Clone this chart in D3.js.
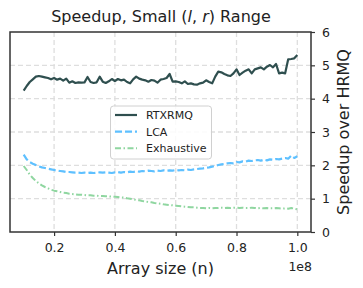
<!DOCTYPE html>
<html>
<head>
<meta charset="utf-8">
<script src="https://cdn.jsdelivr.net/npm/d3@7"></script>
<style>
  body { margin: 0; background: #fff; }
  text { font-family: "DejaVu Sans", sans-serif; fill: #222; }
</style>
</head>
<body>
<svg id="chart" width="363" height="288"></svg>
<script>
// array sizes in millions
var sizes = [10, 11, 12, 13, 14, 15, 16, 17, 18, 19,
             20, 21, 22, 23, 24, 25, 26, 27, 28, 29,
             30, 31, 32, 33, 34, 35, 36, 37, 38, 39,
             40, 41, 42, 43, 44, 45, 46, 47, 48, 49,
             50, 51, 52, 53, 54, 55, 56, 57, 58, 59,
             60, 61, 62, 63, 64, 65, 66, 67, 68, 69,
             70, 71, 72, 73, 74, 75, 76, 77, 78, 79,
             80, 81, 82, 83, 84, 85, 86, 87, 88, 89,
             90, 91, 92, 93, 94, 95, 96, 97, 98, 99, 100];

var rtxrmq = [4.24, 4.38, 4.50, 4.58, 4.66, 4.68, 4.66, 4.64, 4.62, 4.58,
              4.62, 4.57, 4.60, 4.54, 4.60, 4.48, 4.52, 4.47, 4.49, 4.48,
              4.49, 4.65, 4.50, 4.47, 4.49, 4.66, 4.51, 4.47, 4.52, 4.59,
              4.53, 4.59, 4.55, 4.57, 4.50, 4.46, 4.58, 4.66, 4.60, 4.57,
              4.55, 4.51, 4.56, 4.54, 4.48, 4.57, 4.59, 4.62, 4.74, 4.51,
              4.52, 4.50, 4.46, 4.52, 4.44, 4.46, 4.43, 4.42, 4.46, 4.48,
              4.55, 4.50, 4.46, 4.66, 4.81, 4.79, 4.74, 4.70, 4.68, 4.76,
              4.88, 4.71, 4.78, 4.84, 4.88, 4.76, 4.88, 4.91, 4.94, 4.88,
              4.96, 5.01, 4.94, 5.04, 4.76, 4.78, 4.76, 5.18, 5.19, 5.21, 5.31];

var lca = [2.32, 2.18, 2.10, 2.05, 2.01, 1.97, 1.94, 1.92, 1.90, 1.88,
           1.86, 1.84, 1.83, 1.82, 1.80, 1.80, 1.79, 1.78, 1.78, 1.77,
           1.78, 1.77, 1.78, 1.77, 1.78, 1.79, 1.78, 1.79, 1.78, 1.77,
           1.79, 1.80, 1.78, 1.80, 1.79, 1.81, 1.80, 1.82, 1.81, 1.83,
           1.82, 1.84, 1.83, 1.82, 1.84, 1.83, 1.85, 1.84, 1.85, 1.84,
           1.86, 1.85, 1.86, 1.85, 1.87, 1.86, 1.88, 1.89, 1.90, 1.91,
           1.93, 1.94, 1.96, 1.98, 2.01, 2.03, 2.04, 2.06, 2.07, 2.06,
           2.10, 2.09, 2.12, 2.11, 2.14, 2.13, 2.15, 2.16, 2.14, 2.17,
           2.15, 2.18, 2.17, 2.19, 2.18, 2.20, 2.22, 2.20, 2.29, 2.22, 2.27];

var exhaustive = [1.98, 1.86, 1.72, 1.62, 1.53, 1.46, 1.40, 1.35, 1.31, 1.27,
                  1.24, 1.22, 1.20, 1.18, 1.17, 1.15, 1.14, 1.13, 1.12, 1.12,
                  1.11, 1.10, 1.10, 1.09, 1.09, 1.08, 1.08, 1.07, 1.07, 1.06,
                  1.06, 1.05, 1.04, 1.03, 1.01, 1.00, 0.98, 0.96, 0.95, 0.93,
                  0.92, 0.90, 0.89, 0.87, 0.86, 0.85, 0.83, 0.82, 0.81, 0.80,
                  0.79, 0.78, 0.77, 0.76, 0.75, 0.74, 0.74, 0.73, 0.72, 0.72,
                  0.71, 0.72, 0.71, 0.72, 0.72, 0.73, 0.72, 0.73, 0.72, 0.73,
                  0.73, 0.72, 0.73, 0.72, 0.72, 0.73, 0.72, 0.71, 0.72, 0.71,
                  0.72, 0.71, 0.71, 0.72, 0.71, 0.70, 0.71, 0.70, 0.72, 0.70, 0.68];

var xTicks = [0.2, 0.4, 0.6, 0.8, 1.0];
var yTicks = [0, 1, 2, 3, 4, 5, 6];
var seriesNames = ["RTXRMQ", "LCA", "Exhaustive"];

var svg = d3.select("#chart");
// plot box (window.top is read-only, so keep these names distinct)
var pL = 10, pR = 311, pT = 32, pB = 232;

var x = d3.scaleLinear().domain([0.055, 1.045]).range([pL, pR]);
var y = d3.scaleLinear().domain([0, 6]).range([pB, pT]);

// grid
svg.append("g").selectAll("line").data(xTicks).enter().append("line")
    .attr("x1", function(d){ return x(d); })
    .attr("x2", function(d){ return x(d); })
    .attr("y1", pT).attr("y2", pB)
    .attr("stroke", "#dedede").attr("stroke-width", 1.3)
    .attr("stroke-dasharray", "5,3");

svg.append("g").selectAll("line").data(yTicks.slice(1, 6)).enter().append("line")
    .attr("x1", pL).attr("x2", pR)
    .attr("y1", function(d){ return y(d); })
    .attr("y2", function(d){ return y(d); })
    .attr("stroke", "#dedede").attr("stroke-width", 1.3)
    .attr("stroke-dasharray", "5,3");

// lines
var line = d3.line()
    .x(function(d){ return x(d.n / 100); })
    .y(function(d){ return y(d.v); });

function toPoints(vals){
    return sizes.map(function(n, i){ return {n: n, v: vals[i]}; });
}

var styles = [
    {data: rtxrmq, color: "#2f4f4f", dash: null, w: 2.2},
    {data: lca, color: "#5ec0ff", dash: "7,3", w: 2.2},
    {data: exhaustive, color: "#8fd6a0", dash: "6,2.5,1.5,2.5", w: 2}
];

styles.forEach(function(s){
    svg.append("path")
        .datum(toPoints(s.data))
        .attr("d", line)
        .attr("fill", "none")
        .attr("stroke", s.color)
        .attr("stroke-width", s.w)
        .attr("stroke-dasharray", s.dash)
        .attr("stroke-linejoin", "round");
});

// spines
svg.append("rect")
    .attr("x", pL).attr("y", pT)
    .attr("width", pR - pL).attr("height", pB - pT)
    .attr("fill", "none").attr("stroke", "#333").attr("stroke-width", 1.5);

// axes
var xAxis = svg.append("g")
    .attr("transform", "translate(0," + pB + ")")
    .call(d3.axisBottom(x).tickValues(xTicks).tickFormat(d3.format(".1f")).tickSize(4).tickPadding(7));

var yAxis = svg.append("g")
    .attr("transform", "translate(" + pR + ",0)")
    .call(d3.axisRight(y).tickValues(yTicks).tickFormat(d3.format("d")).tickSize(4).tickPadding(7));

[xAxis, yAxis].forEach(function(a){
    a.select(".domain").remove();
    a.selectAll(".tick line").attr("stroke", "#333").attr("stroke-width", 1.2);
    a.selectAll(".tick text")
        .style("font-family", "DejaVu Sans, sans-serif")
        .style("font-size", "12.5px")
        .attr("fill", "#222");
});

// titles
svg.append("text")
    .attr("x", 161).attr("y", 22)
    .attr("text-anchor", "middle")
    .style("font-size", "16px")
    .html('Speedup, Small (<tspan font-style="italic">l</tspan>, <tspan font-style="italic">r</tspan>) Range');

svg.append("text")
    .attr("x", (pL + pR) / 2).attr("y", 274)
    .attr("text-anchor", "middle")
    .style("font-size", "16px")
    .text("Array size (n)");

svg.append("text")
    .attr("x", 312).attr("y", 271)
    .attr("text-anchor", "end")
    .style("font-size", "12.5px")
    .text("1e8");

svg.append("text")
    .attr("transform", "translate(349," + ((pT + pB) / 2) + ") rotate(-90)")
    .attr("text-anchor", "middle")
    .style("font-size", "16px")
    .text("Speedup over HRMQ");

// legend
var legend = svg.append("g");
legend.append("rect")
    .attr("x", 110.5).attr("y", 106)
    .attr("width", 101).attr("height", 53)
    .attr("rx", 3)
    .attr("fill", "#fff").attr("fill-opacity", 0.85)
    .attr("stroke", "#d0d0d0").attr("stroke-width", 1);

var rows = legend.selectAll("g.row").data(styles).enter().append("g")
    .attr("class", "row")
    .attr("transform", function(d, i){ return "translate(0," + (115 + i * 16.6) + ")"; });

rows.append("line")
    .attr("x1", 115).attr("x2", 137)
    .attr("stroke", function(d){ return d.color; })
    .attr("stroke-width", function(d){ return d.w; })
    .attr("stroke-dasharray", function(d){ return d.dash; });

rows.append("text")
    .attr("x", 146).attr("dy", "0.36em")
    .style("font-size", "11px")
    .text(function(d, i){ return seriesNames[i]; });
</script>
</body>
</html>
